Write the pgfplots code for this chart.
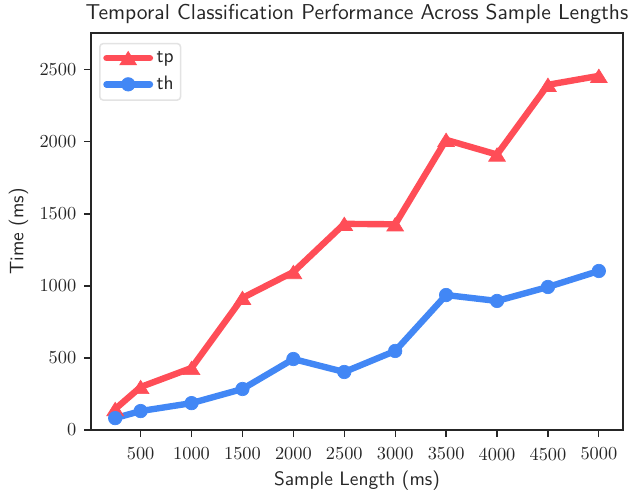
\documentclass[border=0pt]{standalone}
\usepackage{fontspec}
\newfontfamily\lmsansx[Extension=.otf]{lmsans10-regular}
\newfontfamily\lmromx[Extension=.otf]{lmroman10-regular}
\usepackage{pgfplots}
\pgfplotsset{compat=1.18}
\definecolor{tpred}{RGB}{255,77,87}
\definecolor{thblue}{RGB}{66,135,245}
\definecolor{axgray}{RGB}{38,38,38}
\makeatletter
\pgfdeclareplotmark{mtri}{%
  \pgfpathmoveto{\pgfqpoint{0pt}{0.8\pgfplotmarksize}}%
  \pgfpathlineto{\pgfqpoint{-\pgfplotmarksize}{-0.8\pgfplotmarksize}}%
  \pgfpathlineto{\pgfqpoint{\pgfplotmarksize}{-0.8\pgfplotmarksize}}%
  \pgfpathclose\pgfusepathqfillstroke}
\makeatother
\newcommand{\ticktxt}[1]{\hbox{\lmromx\fontsize{13.2}{16}\selectfont\pgfmathprintnumber[assume math mode=true,1000 sep={},fixed,precision=0]{#1}}}
\begin{document}
\begin{tikzpicture}
\begin{axis}[
  name=main,
  width=383pt, height=286pt, scale only axis,
  xmin=12.5, xmax=5237.5, ymin=0, ymax=2757,
  xtick={500,1000,...,5000}, ytick={0,500,...,2500},
  tick align=outside, tick pos=left,
  major tick length=5pt,
  every tick/.style={axgray, line width=0.9pt},
  axis line style={axgray, line width=1.2pt},
  xticklabel={\ticktxt{\tick}},
  yticklabel={\ticktxt{\tick}},
  tick label style={text=axgray},
  xticklabel style={yshift=-4.1pt},
  yticklabel style={xshift=-2.1pt},
  label style={font=\lmsansx\fontsize{14}{16}\selectfont, text=axgray},
  xlabel style={at={(axis description cs:0.5,0)}, anchor=base, yshift=-39.6pt},
  ylabel style={at={(axis description cs:-0.1363,0.5)}, anchor=center},
  title style={font=\lmsansx\fontsize{15.5}{18}\selectfont, text=axgray, at={(axis description cs:0.5,1)}, anchor=base, yshift=3.4pt},
  title={Temporal Classification Performance Across Sample Lengths},
  xlabel={Sample Length (ms)}, ylabel={Time (ms)},
  scaled ticks=false,
  legend style={draw=gray!22, line width=1.1pt, rounded corners=2.5pt, font=\lmsansx\fontsize{14}{16}\selectfont, text=axgray, at={(axis description cs:0.0151,0.9748)}, anchor=north west, inner xsep=2.5pt, inner ysep=3pt, row sep=3pt, nodes={inner sep=2.5pt, text depth=0.2em}},
  legend cell align=left,
  legend image code/.code={\draw[mark repeat=2,mark phase=2, line cap=round] plot coordinates {(0cm,0cm) (0.55cm,0cm) (1.1cm,0cm)};},
]
\addplot[tpred, line width=4.6pt, line join=round, mark=mtri, mark size=6pt, mark options={solid, line width=0.5pt, line join=miter}] coordinates {
(250,146) (500,299) (1000,431) (1500,917) (2000,1097) (2500,1431) (3000,1428) (3500,2014) (4000,1912) (4500,2396) (5000,2458)};
\addlegendentry{tp}
\addplot[thblue, line width=4.6pt, line join=round, mark=*, mark size=4.85pt, mark options={solid, line width=0.5pt}] coordinates {
(250,83) (500,132) (1000,187) (1500,285) (2000,493) (2500,403) (3000,549) (3500,937) (4000,896) (4500,993) (5000,1104)};
\addlegendentry{th}
\end{axis}
\pgfresetboundingbox
\path (main.south west) ++(-65.5pt,-45.4pt) rectangle ++(460pt,355pt);
\end{tikzpicture}
\end{document}
